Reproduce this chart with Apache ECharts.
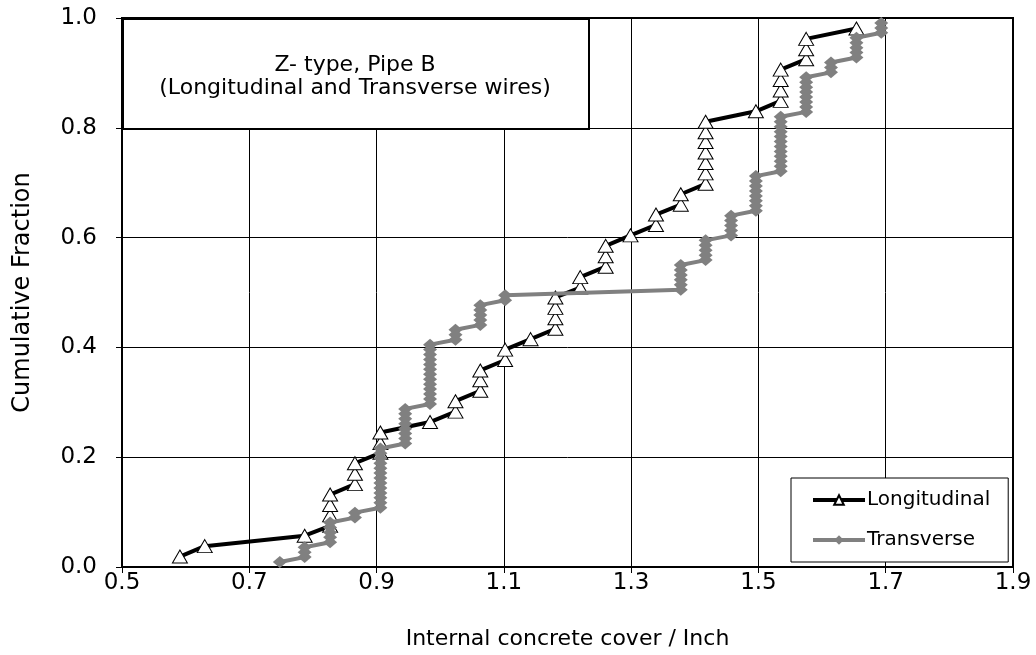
<!DOCTYPE html>
<html>
<head>
<meta charset="utf-8">
<script src="https://cdn.jsdelivr.net/npm/echarts@6/dist/echarts.min.js"></script>
<style>html,body{margin:0;padding:0;background:#fff}#c{width:1036px;height:655px}</style>
</head>
<body>
<div id="c"></div>
<script>
// ---- data (inches / cumulative fraction) ----
const xTicks = ['0.5','0.7','0.9','1.1','1.3','1.5','1.7','1.9'];
const yTicks = ['0.0','0.2','0.4','0.6','0.8','1.0'];

const longX = [0.591,0.630,0.787,0.827,0.827,0.827,0.827,0.866,0.866,0.866,
  0.906,0.906,0.906,0.984,1.024,1.024,1.063,1.063,1.063,1.102,
  1.102,1.142,1.181,1.181,1.181,1.181,1.220,1.220,1.260,1.260,
  1.260,1.299,1.339,1.339,1.378,1.378,1.417,1.417,1.417,1.417,
  1.417,1.417,1.417,1.496,1.535,1.535,1.535,1.535,1.575,1.575,
  1.575,1.654];
const longY = [0.019,0.038,0.057,0.075,0.094,0.113,0.132,0.151,0.170,0.189,
  0.208,0.226,0.245,0.264,0.283,0.302,0.321,0.340,0.358,0.377,
  0.396,0.415,0.434,0.453,0.472,0.491,0.509,0.528,0.547,0.566,
  0.585,0.604,0.623,0.642,0.660,0.679,0.698,0.717,0.736,0.755,
  0.774,0.792,0.811,0.830,0.849,0.868,0.887,0.906,0.925,0.943,
  0.962,0.981];

const transX = [0.748,0.787,0.787,0.787,0.827,0.827,0.827,0.827,0.827,0.866,
  0.866,0.906,0.906,0.906,0.906,0.906,0.906,0.906,0.906,0.906,
  0.906,0.906,0.906,0.906,0.945,0.945,0.945,0.945,0.945,0.945,
  0.945,0.945,0.984,0.984,0.984,0.984,0.984,0.984,0.984,0.984,
  0.984,0.984,0.984,0.984,0.984,1.024,1.024,1.024,1.063,1.063,
  1.063,1.063,1.063,1.102,1.102,1.378,1.378,1.378,1.378,1.378,
  1.378,1.417,1.417,1.417,1.417,1.417,1.457,1.457,1.457,1.457,
  1.457,1.496,1.496,1.496,1.496,1.496,1.496,1.496,1.496,1.535,
  1.535,1.535,1.535,1.535,1.535,1.535,1.535,1.535,1.535,1.535,
  1.535,1.575,1.575,1.575,1.575,1.575,1.575,1.575,1.575,1.614,
  1.614,1.614,1.654,1.654,1.654,1.654,1.654,1.693,1.693,1.693];
const transY = [0.009,0.018,0.027,0.036,0.045,0.054,0.063,0.072,0.081,0.090,
  0.099,0.108,0.117,0.126,0.135,0.144,0.153,0.162,0.171,0.180,
  0.189,0.198,0.207,0.216,0.225,0.234,0.243,0.252,0.261,0.270,
  0.279,0.288,0.297,0.306,0.315,0.324,0.333,0.342,0.351,0.360,
  0.369,0.378,0.387,0.396,0.405,0.414,0.423,0.432,0.441,0.450,
  0.459,0.468,0.477,0.486,0.495,0.505,0.514,0.523,0.532,0.541,
  0.550,0.559,0.568,0.577,0.586,0.595,0.604,0.613,0.622,0.631,
  0.640,0.649,0.658,0.667,0.676,0.685,0.694,0.703,0.712,0.721,
  0.730,0.739,0.748,0.757,0.766,0.775,0.784,0.793,0.802,0.811,
  0.820,0.829,0.838,0.847,0.856,0.865,0.874,0.883,0.892,0.901,
  0.910,0.919,0.928,0.937,0.946,0.955,0.964,0.973,0.982,0.991];

const seriesNames = ['Longitudinal','Transverse'];
const boxLines = ['Z- type, Pipe B','(Longitudinal and Transverse wires)'];
const xTitle = 'Internal concrete cover / Inch';
const yTitle = 'Cumulative Fraction';

// ---- chart ----
const FONT = 'DejaVu Sans';
const pairs = (xs, ys) => xs.map((x, i) => [x, ys[i]]);
const chart = echarts.init(document.getElementById('c'), null, {renderer: 'canvas'});
chart.setOption({
  animation: false,
  backgroundColor: '#fff',
  grid: {left: 122, top: 18, width: 891, height: 550, show: true,
         borderColor: '#000', borderWidth: 2, backgroundColor: '#fff'},
  xAxis: {
    type: 'value', min: 0.5, max: 1.9, interval: 0.2,
    axisLine: {show: true, onZero: false, lineStyle: {color: '#000', width: 2}},
    axisTick: {show: true, inside: false, length: 6, lineStyle: {color: '#000', width: 1}},
    axisLabel: {color: '#000', fontSize: 23, fontFamily: FONT, margin: 5,
      showMinLabel: true, showMaxLabel: true,
      formatter: v => xTicks[Math.round((v - 0.5) / 0.2)]},
    splitLine: {show: true, lineStyle: {color: '#000', width: 1}},
    name: xTitle, nameLocation: 'middle', nameGap: 61,
    nameTextStyle: {color: '#000', fontSize: 22, fontFamily: FONT}
  },
  yAxis: {
    type: 'value', min: 0, max: 1, interval: 0.2,
    axisLine: {show: true, lineStyle: {color: '#000', width: 2}},
    axisTick: {show: true, inside: false, length: 6, lineStyle: {color: '#000', width: 1}},
    axisLabel: {color: '#000', fontSize: 23, fontFamily: FONT, margin: 25,
      formatter: v => yTicks[Math.round(v / 0.2)]},
    splitLine: {show: true, lineStyle: {color: '#000', width: 1}},
    name: yTitle, nameLocation: 'middle', nameGap: 87,
    nameTextStyle: {color: '#000', fontSize: 24, fontFamily: FONT}
  },
  legend: {
    orient: 'vertical', left: 791, top: 478,
    padding: [12, 18, 12, 20], itemGap: 20, itemWidth: 52, itemHeight: 12,
    backgroundColor: '#fff', borderColor: '#000', borderWidth: 1,
    lineStyle: {width: 4},
    textStyle: {color: '#000', fontSize: 20, fontFamily: FONT, padding: [0, 0, 0, -3]},
    data: seriesNames
  },
  series: [
    {
      name: seriesNames[0], type: 'line', data: pairs(longX, longY),
      symbol: 'triangle', symbolSize: [15, 13], showAllSymbol: true,
      lineStyle: {color: '#000', width: 4},
      itemStyle: {color: '#fff', borderColor: '#000', borderWidth: 1},
      z: 2
    },
    {
      name: seriesNames[1], type: 'line', data: pairs(transX, transY),
      symbol: 'diamond', symbolSize: [14, 12], showAllSymbol: true,
      lineStyle: {color: '#808080', width: 4},
      itemStyle: {color: '#808080'},
      z: 3
    }
  ],
  graphic: [
    {type: 'rect', left: 122, top: 18, z: 100,
     shape: {width: 466, height: 110},
     style: {fill: '#fff', stroke: '#000', lineWidth: 2}},
    {type: 'text', z: 101, x: 355, y: 65,
     style: {text: boxLines[0], fill: '#000', font: '22px "DejaVu Sans"',
             textAlign: 'center', textVerticalAlign: 'middle'}},
    {type: 'text', z: 101, x: 355, y: 88,
     style: {text: boxLines[1], fill: '#000', font: '22px "DejaVu Sans"',
             textAlign: 'center', textVerticalAlign: 'middle'}}
  ]
});
</script>
</body>
</html>
